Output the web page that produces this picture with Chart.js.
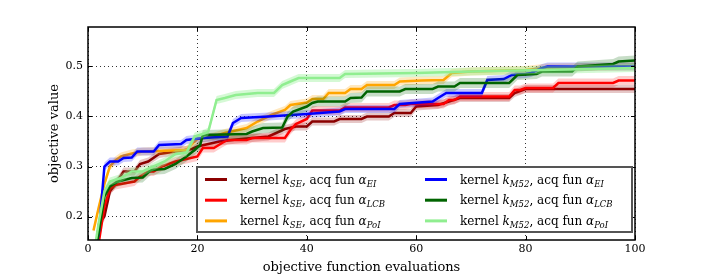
<!DOCTYPE html>
<html>
<head>
<meta charset="utf-8">
<script src="https://cdn.jsdelivr.net/npm/chart.js@4.4.1/dist/chart.umd.min.js"></script>
<style>
    html, body { margin: 0; padding: 0; background: #fff; }
    #wrap { width: 706px; height: 275px; }
</style>
</head>
<body>
<div id="wrap"><canvas id="chartBO" width="706" height="275"></canvas></div>
<script>
// ====================================================
// DATOS
// ====================================================
const xTicks = [0, 20, 40, 60, 80, 100];
const yTicks = [0.2, 0.3, 0.4, 0.5];

const kernels = ["SE", "SE", "SE", "M52", "M52", "M52"];
const acqFuns = ["EI", "LCB", "PoI", "EI", "LCB", "PoI"];

// [evaluación, valor medio]
const seEi = [[1, 0.10], [2, 0.185], [3, 0.20], [4, 0.25], [5, 0.265], [6.5, 0.29], [8.5, 0.29], [9.5, 0.305], [11, 0.31], [13, 0.325], [16, 0.33], [19, 0.335], [20, 0.34], [24, 0.35], [28, 0.355], [33, 0.36], [34, 0.365], [36, 0.375], [38, 0.38], [40, 0.38], [41, 0.39], [45, 0.39], [46, 0.395], [50, 0.395], [51, 0.40], [55, 0.40], [56, 0.407], [59, 0.407], [60, 0.42], [64, 0.423], [66, 0.43], [68, 0.437], [77, 0.437], [78, 0.447], [80, 0.455], [100, 0.455]];
const seLcb = [[1, 0.12], [2, 0.15], [3, 0.22], [4, 0.255], [5, 0.263], [7, 0.267], [8.5, 0.27], [9.5, 0.28], [11, 0.29], [12, 0.29], [13.5, 0.30], [16, 0.31], [18, 0.315], [20, 0.32], [21, 0.337], [23, 0.337], [24.5, 0.347], [25.5, 0.353], [29, 0.353], [30, 0.357], [36, 0.357], [37, 0.373], [38, 0.385], [40, 0.395], [41, 0.412], [46, 0.412], [47, 0.418], [55, 0.418], [56, 0.423], [58, 0.423], [59, 0.425], [65, 0.425], [66, 0.433], [67, 0.433], [68, 0.44], [77, 0.44], [78, 0.453], [79, 0.453], [80, 0.457], [85, 0.457], [86, 0.467], [96, 0.467], [97, 0.472], [100, 0.472]];
const sePoi = [[1, 0.172], [2, 0.22], [3, 0.265], [4, 0.30], [5, 0.312], [6, 0.32], [8, 0.326], [10, 0.33], [18, 0.333], [19, 0.345], [20, 0.355], [23, 0.36], [25, 0.367], [29, 0.377], [31, 0.39], [33.5, 0.403], [36, 0.413], [37, 0.423], [40, 0.428], [41, 0.435], [43, 0.435], [44, 0.447], [47, 0.447], [48, 0.455], [50, 0.455], [51, 0.463], [56, 0.463], [57, 0.47], [61, 0.472], [65, 0.473], [66.5, 0.487], [70, 0.49], [80, 0.493], [84, 0.498], [100, 0.50]];
const m52Ei = [[1, 0.10], [2, 0.17], [3, 0.30], [4, 0.31], [5.5, 0.31], [6.5, 0.317], [8, 0.318], [9, 0.33], [12, 0.33], [13, 0.343], [17, 0.345], [18, 0.353], [21, 0.357], [25.5, 0.36], [26.5, 0.387], [28, 0.397], [33, 0.40], [40, 0.405], [46, 0.41], [47, 0.415], [56, 0.415], [57, 0.425], [63, 0.43], [64, 0.437], [65.5, 0.447], [72, 0.447], [73, 0.473], [76, 0.475], [77.5, 0.483], [80, 0.485], [81, 0.487], [83, 0.497], [84, 0.50], [100, 0.50]];
const m52Lcb = [[1, 0.11], [2, 0.17], [3, 0.24], [4, 0.26], [5.5, 0.27], [8, 0.277], [10, 0.278], [11.5, 0.293], [14, 0.295], [16, 0.305], [18, 0.32], [19.5, 0.333], [20.5, 0.343], [21, 0.363], [29, 0.365], [30, 0.37], [32, 0.377], [35.5, 0.378], [36.5, 0.40], [37.5, 0.41], [40, 0.42], [41, 0.427], [42, 0.43], [47, 0.43], [48, 0.437], [50, 0.438], [51, 0.45], [57, 0.45], [58, 0.455], [63, 0.455], [64, 0.46], [67, 0.46], [68, 0.467], [77, 0.467], [78.5, 0.483], [82, 0.485], [83, 0.49], [88.5, 0.49], [89.5, 0.50], [96, 0.505], [97, 0.51], [100, 0.512]];
const m52Poi = [[1, 0.12], [2, 0.19], [3, 0.25], [4, 0.27], [6, 0.277], [8, 0.29], [10, 0.29], [12, 0.30], [14, 0.31], [16, 0.325], [18, 0.328], [19.5, 0.36], [21.5, 0.367], [22, 0.37], [23.5, 0.433], [25, 0.437], [27, 0.443], [31, 0.447], [34, 0.447], [35.5, 0.463], [37, 0.47], [38.5, 0.477], [46, 0.477], [47, 0.485], [60, 0.487], [70, 0.49], [100, 0.497]];

// desviación (semi-ancho de la banda) por serie
const spreads = [0.008, 0.009, 0.008, 0.008, 0.010, 0.008];

const allSeries = [seEi, seLcb, sePoi, m52Ei, m52Lcb, m52Poi];
const lineColors = ["#8b0000", "#ff0000", "#ffa500", "#0000ff", "#006400", "#90ee90"];
const bandColors = [
    "rgba(139,0,0,0.22)",
    "rgba(255,0,0,0.20)",
    "rgba(255,165,0,0.25)",
    "rgba(0,0,255,0.22)",
    "rgba(0,100,0,0.22)",
    "rgba(144,238,144,0.38)",
];

const FONT = '"DejaVu Serif", serif';

// ====================================================
// DATASETS
// ====================================================
const datasets = [];
allSeries.forEach((serie, i) => {
    const mean = serie.map(([x, y]) => ({ x, y }));
    const low = serie.map(([x, y]) => ({ x, y: y - spreads[i] }));
    const high = serie.map(([x, y]) => ({ x, y: y + spreads[i] }));
    datasets.push({
        data: low,
        borderColor: "rgba(0,0,0,0)",
        borderWidth: 0,
        fill: false,
    });
    datasets.push({
        data: high,
        borderColor: "rgba(0,0,0,0)",
        borderWidth: 0,
        backgroundColor: bandColors[i],
        fill: "-1",
    });
    datasets.push({
        data: mean,
        borderColor: lineColors[i],
        borderWidth: 2.5,
        fill: false,
        kernel: kernels[i],
        acq: acqFuns[i],
    });
});
// las series posteriores se pintan encima (como matplotlib)
datasets.forEach((d, idx) => { d.order = datasets.length - idx; });

// ====================================================
// PLUGINS
// ====================================================
const framePlugin = {
    id: "frame",
    afterDatasetsDraw(chart) {
        const { ctx, chartArea: a, scales } = chart;
        ctx.save();
        ctx.strokeStyle = "#000";
        ctx.lineWidth = 1;
        ctx.beginPath();
        xTicks.forEach((v) => {
            const px = Math.round(scales.x.getPixelForValue(v)) + 0.5;
            ctx.moveTo(px, a.bottom); ctx.lineTo(px, a.bottom - 4);
            ctx.moveTo(px, a.top); ctx.lineTo(px, a.top + 4);
        });
        yTicks.forEach((v) => {
            const py = Math.round(scales.y.getPixelForValue(v)) + 0.5;
            ctx.moveTo(a.left, py); ctx.lineTo(a.left + 4, py);
            ctx.moveTo(a.right, py); ctx.lineTo(a.right - 4, py);
        });
        ctx.stroke();
        ctx.lineWidth = 1.5;
        ctx.strokeRect(a.left, a.top, a.right - a.left, a.bottom - a.top);
        ctx.restore();
    },
};

function drawMathLabel(ctx, x, y, kernel, acq) {
    const parts = [
        ["kernel ", `12px ${FONT}`, 0],
        ["k", `italic 12px ${FONT}`, 0],
        [kernel, `italic 8.5px ${FONT}`, 3],
        [", acq fun ", `12px ${FONT}`, 0],
        ["α", `italic 12px ${FONT}`, 0],
        [acq, `italic 8.5px ${FONT}`, 3],
    ];
    for (const [text, font, dy] of parts) {
        ctx.font = font;
        ctx.fillText(text, x, y + dy);
        x += ctx.measureText(text).width;
    }
}

const mathLegend = {
    id: "mathLegend",
    afterDraw(chart) {
        const { ctx, chartArea: a } = chart;
        const box = { left: a.left + 109, top: a.top + 140, right: a.right - 3, bottom: a.bottom - 8 };
        ctx.save();
        ctx.fillStyle = "#fff";
        ctx.fillRect(box.left, box.top, box.right - box.left, box.bottom - box.top);
        ctx.strokeStyle = "#555";
        ctx.lineWidth = 2;
        ctx.strokeRect(box.left, box.top, box.right - box.left, box.bottom - box.top);

        const lines = chart.data.datasets.filter((d) => d.kernel);
        lines.forEach((d, i) => {
            const col = Math.floor(i / 3);
            const row = i % 3;
            const x0 = box.left + 8 + col * 220;
            const yc = box.top + 12.5 + row * 20.7;
            ctx.strokeStyle = d.borderColor;
            ctx.lineWidth = 3;
            ctx.beginPath();
            ctx.moveTo(x0, yc);
            ctx.lineTo(x0 + 22, yc);
            ctx.stroke();
            ctx.fillStyle = "#000";
            ctx.textBaseline = "alphabetic";
            drawMathLabel(ctx, x0 + 35, yc + 4, d.kernel, d.acq);
        });
        ctx.restore();
    },
};

// ====================================================
// GRÝFICO
// ====================================================
const ctx = document.getElementById("chartBO").getContext("2d");

new Chart(ctx, {
    type: "line",
    data: { datasets },
    options: {
        responsive: false,
        animation: false,
        devicePixelRatio: 1,
        layout: { padding: { left: 47, right: 71, top: 27, bottom: 0 } },
        elements: { point: { radius: 0 }, line: { tension: 0 } },
        plugins: {
            legend: { display: false },
            tooltip: { enabled: false },
        },
        scales: {
            x: {
                type: "linear",
                min: 0,
                max: 100,
                afterFit: (s) => { s.height = 35; },
                afterBuildTicks: (s) => { s.ticks = xTicks.map((v) => ({ value: v })); },
                grid: { color: "rgba(0,0,0,0.8)", lineWidth: 1, drawTicks: false },
                border: { display: false, dash: [1, 3] },
                ticks: { color: "#000", padding: 3, font: { family: FONT, size: 11 } },
                title: {
                    display: true,
                    text: "objective function evaluations",
                    color: "#000",
                    padding: 0,
                    font: { family: FONT, size: 13 },
                },
            },
            y: {
                type: "linear",
                min: 0.153,
                max: 0.579,
                afterFit: (s) => { s.width = 41; },
                afterBuildTicks: (s) => { s.ticks = yTicks.map((v) => ({ value: v })); },
                grid: { color: "rgba(0,0,0,0.8)", lineWidth: 1, drawTicks: false },
                border: { display: false, dash: [1, 3] },
                ticks: {
                    color: "#000",
                    padding: 5,
                    font: { family: FONT, size: 11 },
                    callback: (v) => v.toFixed(1),
                },
                title: {
                    display: true,
                    text: "objective value",
                    color: "#000",
                    padding: 0,
                    font: { family: FONT, size: 13 },
                },
            },
        },
    },
    plugins: [framePlugin, mathLegend],
});
</script>
</body>
</html>
